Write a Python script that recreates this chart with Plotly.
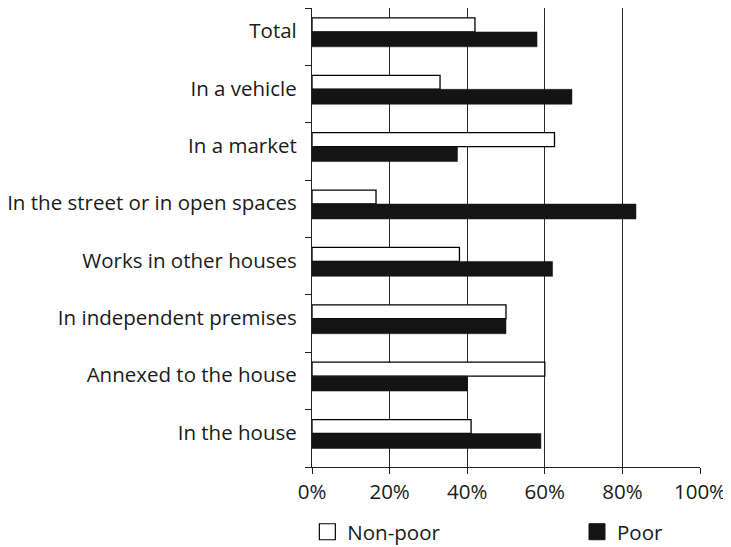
import plotly.graph_objects as go

categories = ["Total", "In a vehicle", "In a market", "In the street or in open spaces",
              "Works in other houses", "In independent premises", "Annexed to the house", "In the house"]
non_poor = [42, 33, 62.5, 16.5, 38, 50, 60, 41]
poor = [58, 67, 37.5, 83.5, 62, 50, 40, 59]
x_ticks = [0, 20, 40, 60, 80, 100]
x_tick_labels = ["0%", "20%", "40%", "60%", "80%", "100%"]

idx = list(range(len(categories)))
FONT = "Open Sans"
FS = 20.5

fig = go.Figure()
fig.add_trace(go.Bar(
    y=[i - 0.205 for i in idx], x=non_poor, orientation="h", width=0.243,
    marker=dict(color="white", line=dict(color="black", width=1.3)),
    showlegend=False, name="Non-poor"))
fig.add_trace(go.Bar(
    y=[i + 0.047 for i in idx], x=poor, orientation="h", width=0.26,
    marker=dict(color="#141414", line=dict(color="#141414", width=0.5)),
    showlegend=False, name="Poor"))
# legend proxies
fig.add_trace(go.Scatter(x=[None], y=[None], mode="markers", name="Non-poor", legend="legend",
                         marker=dict(symbol="square", size=22, color="white",
                                     line=dict(color="black", width=1.2))))
fig.add_trace(go.Scatter(x=[None], y=[None], mode="markers", name="Poor", legend="legend2",
                         marker=dict(symbol="square", size=22, color="#141414",
                                     line=dict(color="#141414", width=1))))

leg_common = dict(orientation="h", yanchor="middle", xanchor="left", yref="container",
                  font=dict(family=FONT, size=FS, color="#1a1a1a"),
                  bgcolor="rgba(0,0,0,0)", itemsizing="trace")

# page body has an 8px default margin, so the figure is sized to fit the window
fig.update_layout(
    width=723, height=539,
    margin=dict(l=304, r=31, t=0, b=80, autoexpand=False),
    paper_bgcolor="white", plot_bgcolor="white",
    font=dict(family=FONT, size=FS, color="#1a1a1a"),
    barmode="overlay",
    xaxis=dict(range=[0, 100], tickvals=x_ticks, ticktext=x_tick_labels,
               showgrid=True, gridcolor="#2a2a2a", gridwidth=1,
               showline=True, linecolor="#222222", linewidth=1.2, mirror=True,
               ticks="outside", ticklen=6, tickcolor="#222222",
               zeroline=False, fixedrange=True, automargin=False),
    yaxis=dict(range=[7.5, -0.5], tickvals=[i - 0.1 for i in idx], ticktext=categories,
               ticks="", showgrid=False, zeroline=False,
               showline=True, linecolor="#222222", linewidth=1.2,
               ticklabelstandoff=10, automargin=False,
               minor=dict(tickvals=[i - 0.5 for i in idx] + [7.5], ticks="outside",
                          ticklen=6, tickcolor="#222222", showgrid=False),
               fixedrange=True),
    legend=dict(x=-0.012, y=0.028, **leg_common),
    legend2=dict(x=0.683, y=0.028, **leg_common),
)

fig.write_html("out.html")
